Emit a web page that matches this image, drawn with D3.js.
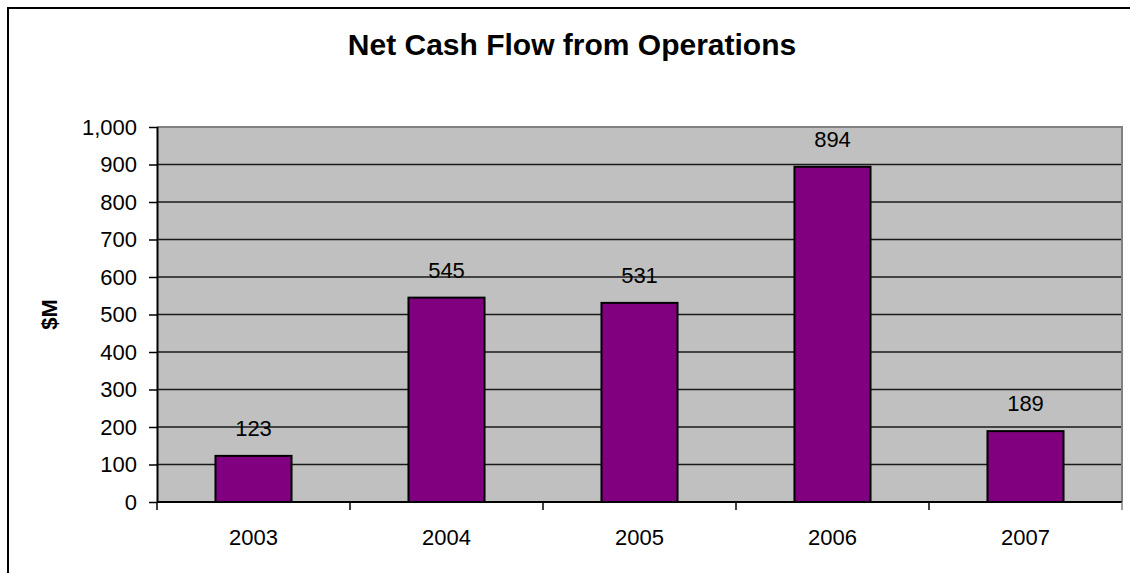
<!DOCTYPE html>
<html>
<head>
<meta charset="utf-8">
<script src="https://cdn.jsdelivr.net/npm/d3@7"></script>
<style>
  html, body { margin: 0; padding: 0; background: #fff; }
  svg { display: block; font-family: "Liberation Sans", Arial, sans-serif; }
</style>
</head>
<body>
<svg id="chart" width="1130" height="573"></svg>
<script>
// Net cash flow from operations, $M, by fiscal year
const years = ["2003", "2004", "2005", "2006", "2007"];
const cashFlow = [123, 545, 531, 894, 189];
const yTicks = [0, 100, 200, 300, 400, 500, 600, 700, 800, 900, 1000];

const svg = d3.select("#chart");
const plot = { left: 157, right: 1122, top: 127, bottom: 502 };

// outer frame of the chart
svg.append("rect")
  .attr("x", 8).attr("y", 8)
  .attr("width", 1140).attr("height", 580)
  .attr("fill", "#fff").attr("stroke", "#000").attr("stroke-width", 2);

const x = d3.scaleBand().domain(years)
  .range([plot.left, plot.right]).paddingInner(0.606).paddingOuter(0.303);
const xBand = d3.scaleBand().domain(years).range([plot.left, plot.right]);
const y = d3.scaleLinear().domain([0, 1000]).range([plot.bottom, plot.top]);

// plot background
svg.append("rect")
  .attr("x", plot.left).attr("y", plot.top)
  .attr("width", plot.right - plot.left).attr("height", plot.bottom - plot.top)
  .attr("fill", "#c0c0c0");

// gridlines
svg.append("g").selectAll("line")
  .data(yTicks.filter(d => d > 0 && d < 1000))
  .join("line")
  .attr("x1", plot.left).attr("x2", plot.right)
  .attr("y1", d => y(d)).attr("y2", d => y(d))
  .attr("stroke", "#1a1a1a").attr("stroke-width", 1.4);

// plot border on top and right
svg.append("path")
  .attr("d", `M${plot.left},${plot.top}H${plot.right}V${plot.bottom}`)
  .attr("fill", "none").attr("stroke", "#808080").attr("stroke-width", 2);

// bars
svg.append("g").selectAll("rect")
  .data(years.map((yr, i) => ({ yr, v: cashFlow[i] })))
  .join("rect")
  .attr("x", d => x(d.yr)).attr("width", x.bandwidth())
  .attr("y", d => y(d.v)).attr("height", d => y(0) - y(d.v))
  .attr("fill", "#800080").attr("stroke", "#000").attr("stroke-width", 2);

// value labels
svg.append("g").selectAll("text")
  .data(years.map((yr, i) => ({ yr, v: cashFlow[i] })))
  .join("text")
  .attr("x", d => x(d.yr) + x.bandwidth() / 2)
  .attr("y", d => y(d.v) - 20)
  .attr("text-anchor", "middle")
  .attr("font-size", 22).attr("fill", "#000")
  .text(d => d3.format(",")(d.v));

// y axis
const yAxis = svg.append("g")
  .attr("transform", `translate(${plot.left},0)`)
  .call(d3.axisLeft(y).tickValues(yTicks).tickFormat(d3.format(",")).tickSize(8).tickPadding(12));
yAxis.select(".domain").attr("stroke", "#000").attr("stroke-width", 2)
  .attr("d", `M0.5,${plot.top}V${plot.bottom}`);
yAxis.selectAll(".tick line").attr("stroke", "#000").attr("stroke-width", 1.5);
yAxis.selectAll(".tick text").attr("font-size", 22).attr("fill", "#000")
  .attr("font-family", "Liberation Sans, Arial, sans-serif");

// x axis with ticks at category boundaries
const xAxis = svg.append("g")
  .attr("transform", `translate(0,${plot.bottom})`);
xAxis.append("line")
  .attr("x1", plot.left).attr("x2", plot.right)
  .attr("stroke", "#000").attr("stroke-width", 2);
const bounds = years.map(d => xBand(d)).concat([xBand(years[years.length - 1]) + xBand.bandwidth()]);
xAxis.selectAll("line.tk").data(bounds).join("line")
  .attr("class", "tk")
  .attr("x1", d => d).attr("x2", d => d)
  .attr("y1", 0).attr("y2", 8)
  .attr("stroke", d => d === plot.right ? "#808080" : "#000").attr("stroke-width", 1.5);
xAxis.selectAll("text").data(years).join("text")
  .attr("x", d => xBand(d) + xBand.bandwidth() / 2)
  .attr("y", 43)
  .attr("text-anchor", "middle")
  .attr("font-size", 22).attr("fill", "#000")
  .text(d => d);

// y axis title
svg.append("text")
  .attr("transform", `translate(57,${(plot.top + plot.bottom) / 2}) rotate(-90)`)
  .attr("text-anchor", "middle")
  .attr("font-size", 22).attr("font-weight", "bold")
  .text("$M");

// chart title
svg.append("text")
  .attr("x", 572).attr("y", 55)
  .attr("text-anchor", "middle")
  .attr("font-size", 30).attr("font-weight", "bold")
  .text("Net Cash Flow from Operations");
</script>
</body>
</html>
